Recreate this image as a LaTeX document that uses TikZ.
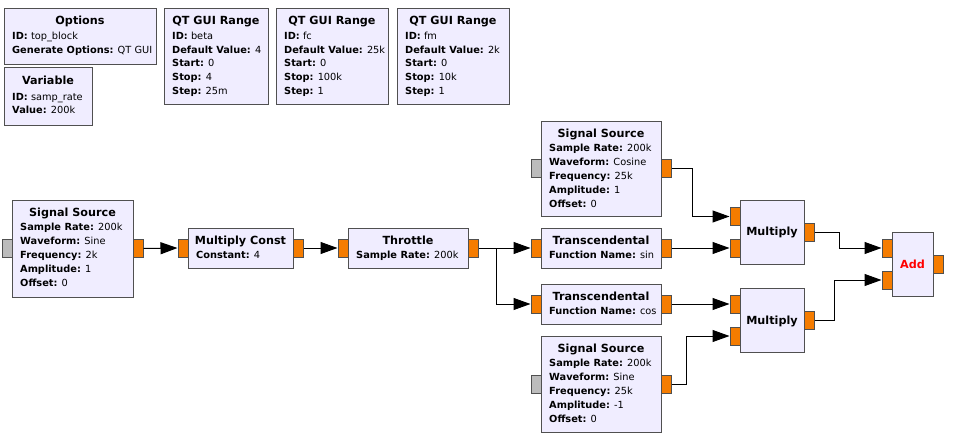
\documentclass[tikz,border=0pt]{standalone}
\usepackage{fontspec}
\setmainfont{DejaVu Sans}
\usetikzlibrary{arrows.meta}
\definecolor{blkfill}{RGB}{240,237,255}
\definecolor{blkedge}{RGB}{80,80,80}
\definecolor{portorange}{RGB}{245,124,0}
\definecolor{portgray}{RGB}{188,188,188}
\definecolor{addred}{RGB}{255,0,0}
\newcommand\mkbox[5]{\node[blk, anchor=north west, minimum width={(#4-#2)*1pt}, minimum height={(#5-#3)*1pt}] (#1) at (#2,#3) {};}
\newcommand\mkline[4]{\node[prop] (#1) at (#2,#3) {#4};}
\newcommand\mkttl[4]{\node[ttl] (#1) at (#2,#3) {#4};}
\newcommand\mkport[4]{\node[#4] (#1) at (#2,#3) {};}
\begin{document}
\begin{tikzpicture}[x=1pt,y=-1pt,
  blk/.style={draw=blkedge, fill=blkfill, line width=1pt, inner sep=0pt, rectangle},
  prop/.style={anchor=base west, inner sep=0pt, font=\fontsize{9.8}{11}\selectfont},
  ttl/.style={anchor=base, inner sep=0pt, font=\fontsize{11.2}{13}\selectfont\bfseries},
  oport/.style={draw=blkedge, fill=portorange, line width=1pt, minimum width=10pt, minimum height=18pt, inner sep=0pt},
  gport/.style={draw=blkedge, fill=portgray, line width=1pt, minimum width=10pt, minimum height=18pt, inner sep=0pt},
  conn/.style={draw=black, line width=1pt, -{Triangle[length=17pt,width=12pt]}}]
\useasboundingbox[fill=white] (0,0) rectangle (954,441);

% Options
\mkbox{opt}{4}{8}{156}{64}
\mkttl{optt}{80}{25}{Options}
\mkline{optl1}{12}{39.4}{\textbf{ID:} top\_block}
\mkline{optl2}{12}{53.4}{\textbf{Generate Options:} QT GUI}

% Variable
\mkbox{var}{4}{67}{92}{125}
\mkttl{vart}{48}{85}{Variable}
\mkline{varl1}{12}{100.4}{\textbf{ID:} samp\_rate}
\mkline{varl2}{12}{113.9}{\textbf{Value:} 200k}

% QT GUI Range beta
\mkbox{rb}{164}{8}{268}{104}
\mkttl{rbt}{216}{24.5}{QT GUI Range}
\mkline{rb1}{172}{39.4}{\textbf{ID:} beta}
\mkline{rb2}{172}{53.1}{\textbf{Default Value:} 4}
\mkline{rb3}{172}{66.8}{\textbf{Start:} 0}
\mkline{rb4}{172}{80.5}{\textbf{Stop:} 4}
\mkline{rb5}{172}{94.2}{\textbf{Step:} 25m}

% QT GUI Range fc
\mkbox{rc}{276}{8}{388}{104}
\mkttl{rct}{332}{24.5}{QT GUI Range}
\mkline{rc1}{284}{39.4}{\textbf{ID:} fc}
\mkline{rc2}{284}{53.1}{\textbf{Default Value:} 25k}
\mkline{rc3}{284}{66.8}{\textbf{Start:} 0}
\mkline{rc4}{284}{80.5}{\textbf{Stop:} 100k}
\mkline{rc5}{284}{94.2}{\textbf{Step:} 1}

% QT GUI Range fm
\mkbox{rm}{397}{8}{509}{104}
\mkttl{rmt}{453}{24.5}{QT GUI Range}
\mkline{rm1}{405}{39.4}{\textbf{ID:} fm}
\mkline{rm2}{405}{53.1}{\textbf{Default Value:} 2k}
\mkline{rm3}{405}{66.8}{\textbf{Start:} 0}
\mkline{rm4}{405}{80.5}{\textbf{Stop:} 10k}
\mkline{rm5}{405}{94.2}{\textbf{Step:} 1}

% Signal Source 1
\mkbox{ssa}{12}{200}{133}{297}
\mkttl{ssat}{72.5}{216.3}{Signal Source}
\mkline{ssa1}{20}{230.7}{\textbf{Sample Rate:} 200k}
\mkline{ssa2}{20}{244.6}{\textbf{Waveform:} Sine}
\mkline{ssa3}{20}{258.5}{\textbf{Frequency:} 2k}
\mkline{ssa4}{20}{272.4}{\textbf{Amplitude:} 1}
\mkline{ssa5}{20}{286.3}{\textbf{Offset:} 0}
\mkport{ssai}{7}{248.5}{gport}
\mkport{ssao}{138}{248.5}{oport}

% Multiply Const
\mkbox{mc}{188}{228}{293}{268}
\mkttl{mct}{240.5}{244}{Multiply Const}
\mkline{mc1}{196}{258.4}{\textbf{Constant:} 4}
\mkport{mci}{183}{248}{oport}
\mkport{mco}{298}{248}{oport}

% Throttle
\mkbox{thr}{348}{228}{468}{268}
\mkttl{thrt}{408}{244}{Throttle}
\mkline{thr1}{356}{258.4}{\textbf{Sample Rate:} 200k}
\mkport{thri}{343}{248}{oport}
\mkport{thro}{473}{248}{oport}

% Transcendental sin
\mkbox{ts}{541}{228}{661}{268}
\mkttl{tst}{601}{244}{Transcendental}
\mkline{ts1}{549}{258.4}{\textbf{Function Name:} sin}
\mkport{tsi}{536}{248}{oport}
\mkport{tso}{666}{248}{oport}

% Transcendental cos
\mkbox{tc}{541}{284}{661}{324}
\mkttl{tct}{601}{300}{Transcendental}
\mkline{tc1}{549}{314.4}{\textbf{Function Name:} cos}
\mkport{tci}{536}{304}{oport}
\mkport{tco}{666}{304}{oport}

% Signal Source 2 (cosine)
\mkbox{ssb}{541}{121}{661}{216}
\mkttl{ssbt}{601}{137.3}{Signal Source}
\mkline{ssb1}{549}{151.7}{\textbf{Sample Rate:} 200k}
\mkline{ssb2}{549}{165.6}{\textbf{Waveform:} Cosine}
\mkline{ssb3}{549}{179.5}{\textbf{Frequency:} 25k}
\mkline{ssb4}{549}{193.4}{\textbf{Amplitude:} 1}
\mkline{ssb5}{549}{207.3}{\textbf{Offset:} 0}
\mkport{ssbi}{536}{168.5}{gport}
\mkport{ssbo}{666}{168.5}{oport}

% Signal Source 3 (sine, -1)
\mkbox{ssc}{541}{336}{661}{432}
\mkttl{ssct}{601}{352.3}{Signal Source}
\mkline{ssc1}{549}{366.7}{\textbf{Sample Rate:} 200k}
\mkline{ssc2}{549}{380.6}{\textbf{Waveform:} Sine}
\mkline{ssc3}{549}{394.5}{\textbf{Frequency:} 25k}
\mkline{ssc4}{549}{408.4}{\textbf{Amplitude:} -1}
\mkline{ssc5}{549}{422.3}{\textbf{Offset:} 0}
\mkport{ssci}{536}{384.5}{gport}
\mkport{ssco}{666}{384.5}{oport}

% Multiply 1
\mkbox{mua}{740}{200}{804}{264}
\mkttl{muat}{772}{236}{Multiply}
\mkport{muai0}{735}{216.5}{oport}
\mkport{muai1}{735}{248}{oport}
\mkport{muao}{809}{232.5}{oport}

% Multiply 2
\mkbox{mub}{740}{288}{804}{352}
\mkttl{mubt}{772}{324}{Multiply}
\mkport{mubi0}{735}{304}{oport}
\mkport{mubi1}{735}{336}{oport}
\mkport{mubo}{809}{320.5}{oport}

% Add
\mkbox{add}{892}{232}{933}{296}
\node[ttl, text=addred] (addt) at (912.5,268) {Add};
\mkport{addi0}{887}{248}{oport}
\mkport{addi1}{887}{280}{oport}
\mkport{addo}{938}{264}{oport}

% Connections
\draw[conn] (ssao.east) -- (mci.west);
\draw[conn] (mco.east) -- (thri.west);
\draw[conn] (thro.east) -- (tsi.west);
\draw[conn] (thro.east) -- ++(18,0) |- (tci.west);
\draw[conn] (ssbo.east) -- ++(21,0) |- (muai0.west);
\draw[conn] (tso.east) -- (muai1.west);
\draw[conn] (tco.east) -- (mubi0.west);
\draw[conn] (ssco.east) -- ++(15,0) |- (mubi1.west);
\draw[conn] (muao.east) -- ++(25,0) |- (addi0.west);
\draw[conn] (mubo.east) -- ++(20,0) |- (addi1.west);
\end{tikzpicture}
\end{document}
